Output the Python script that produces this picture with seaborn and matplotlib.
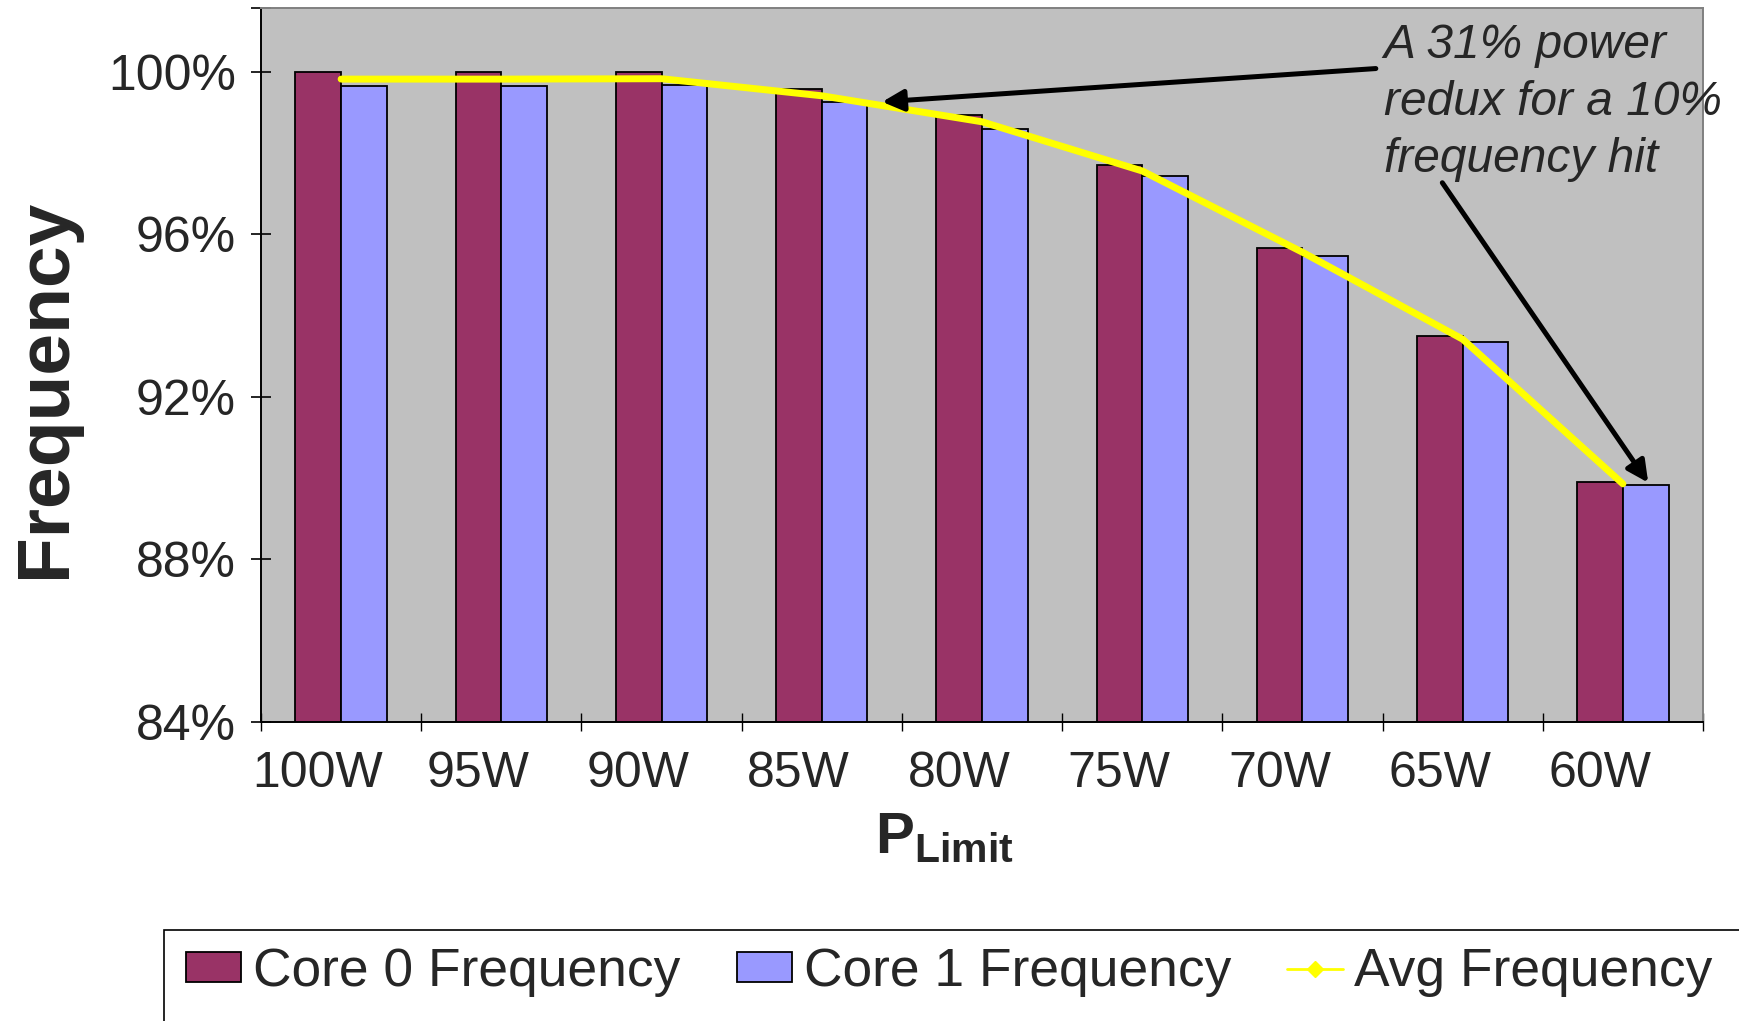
import numpy as np
import pandas as pd
import matplotlib
matplotlib.use("Agg")
import matplotlib.pyplot as plt
import matplotlib.transforms as mtransforms
from matplotlib.patches import Patch, Rectangle
from matplotlib.lines import Line2D
from matplotlib.ticker import FixedLocator
import seaborn as sns

# ---- data ----
categories = ['100W', '95W', '90W', '85W', '80W', '75W', '70W', '65W', '60W']
core0 = [100.0, 100.0, 100.0, 99.58, 98.93, 97.70, 95.66, 93.50, 89.90]
core1 = [99.64, 99.64, 99.67, 99.25, 98.60, 97.43, 95.47, 93.34, 89.82]
avg = [99.82, 99.82, 99.83, 99.41, 98.77, 97.56, 95.56, 93.42, 89.86]
series_names = ['Core 0 Frequency', 'Core 1 Frequency', 'Avg Frequency']
ytick_vals = [84, 88, 92, 96, 100]
ytick_labels = ['84%', '88%', '92%', '96%', '100%']

c0_color = '#993366'
c1_color = '#9999FF'
avg_color = '#FFFF00'
bg_color = '#C0C0C0'

sns.set_style('white')
plt.rcParams['font.family'] = ['Liberation Sans', 'DejaVu Sans']
plt.rcParams['mathtext.fontset'] = 'custom'
plt.rcParams['mathtext.bf'] = 'Liberation Sans:bold'
plt.rcParams['mathtext.rm'] = 'Liberation Sans'

df = pd.DataFrame({
    'P': categories * 2,
    'Freq': core0 + core1,
    'Series': [series_names[0]] * len(categories) + [series_names[1]] * len(categories),
})

fig = plt.figure(figsize=(17.4, 10.21), dpi=100)
ax = fig.add_axes([261 / 1740, 1 - 722 / 1021, (1703 - 261) / 1740, (722 - 8) / 1021])
ax.set_facecolor(bg_color)

sns.barplot(data=df, x='P', y='Freq', hue='Series', order=categories,
            hue_order=series_names[:2], palette=[c0_color, c1_color],
            width=0.57, saturation=1, edgecolor='black', linewidth=1.3,
            legend=False, ax=ax, zorder=2)

sns.lineplot(x=np.arange(len(categories)), y=avg, color=avg_color, lw=5,
             sort=False, ax=ax, zorder=3)

ax.set_xlim(-0.5, len(categories) - 0.5)
ax.set_ylim(84, 101.57)

# y axis
ax.yaxis.set_major_locator(FixedLocator(ytick_vals))
ax.set_yticklabels(ytick_labels)
ax.yaxis.set_minor_locator(FixedLocator([101.57]))
ax.tick_params(axis='y', which='major', direction='inout', length=15, width=1.2,
               labelsize=36, pad=10.5, color='black', left=True)
ax.tick_params(axis='y', which='minor', direction='inout', length=15, width=1.2,
               color='black', left=True)

# x axis
ax.set_xticks(np.arange(len(categories)))
ax.set_xticklabels(categories)
ax.xaxis.set_minor_locator(FixedLocator(np.arange(-0.5, len(categories), 1.0)))
ax.tick_params(axis='x', which='major', length=0, labelsize=36, pad=21, bottom=True)
ax.tick_params(axis='x', which='minor', direction='inout', length=12.5, width=1.0,
               color='black', bottom=True)
offset = mtransforms.ScaledTranslation(-23 / 100, 0, fig.dpi_scale_trans)
for lab in ax.get_xticklabels():
    lab.set_transform(lab.get_transform() + offset)

ax.set_xlabel('')
ax.set_ylabel('')
ax.grid(False)

for side in ['left', 'bottom']:
    ax.spines[side].set_color('black')
    ax.spines[side].set_linewidth(1.4)
for side in ['top', 'right']:
    ax.spines[side].set_color('#808080')
    ax.spines[side].set_linewidth(1.4)
    ax.spines[side].set_visible(True)

# annotation
ax.text(6.506, 101.19, 'A 31% power\nredux for a 10%\nfrequency hit', fontsize=34.5,
        style='italic', ha='left', va='top', linespacing=1.335, zorder=5)
ax.annotate('', xy=(3.377, 99.26), xytext=(6.458, 100.08),
            arrowprops=dict(arrowstyle='-|>', color='black', lw=3.6,
                            mutation_scale=32, shrinkA=0, shrinkB=0), zorder=5)
ax.annotate('', xy=(8.158, 89.89), xytext=(6.873, 97.27),
            arrowprops=dict(arrowstyle='-|>', color='black', lw=3.6,
                            mutation_scale=32, shrinkA=0, shrinkB=0), zorder=5)

# axis labels
fig.text(46 / 1740, 1 - 388 / 1021, 'Frequency', rotation=90, fontsize=54,
         fontweight='bold', ha='center', va='center')
fig.text(944 / 1740, 1 - 852 / 1021, r'$\mathbf{P}_{\mathbf{Limit}}$', fontsize=42,
         ha='center', va='baseline')

# legend
handles = [Patch(facecolor=c0_color, edgecolor='black', linewidth=1.3),
           Patch(facecolor=c1_color, edgecolor='black', linewidth=1.3),
           Line2D([], [], color=avg_color, lw=2.0, marker='D', markersize=8,
                  markerfacecolor=avg_color, markeredgecolor=avg_color)]
fig.legend(handles, series_names, loc='center left',
           bbox_to_anchor=(186 / 1740, 1 - 972 / 1021), ncol=3, frameon=False,
           fontsize=38.4, handlelength=1.04, handleheight=0.47, handletextpad=0.22,
           columnspacing=1.05, borderpad=0, borderaxespad=0)
fig.patches.append(Rectangle((164 / 1740, -0.2), 2.0, 0.2 + (1021 - 930) / 1021,
                             transform=fig.transFigure, fill=False,
                             edgecolor='black', linewidth=1.2, clip_on=False))

fig.savefig('out.png', dpi=100)
